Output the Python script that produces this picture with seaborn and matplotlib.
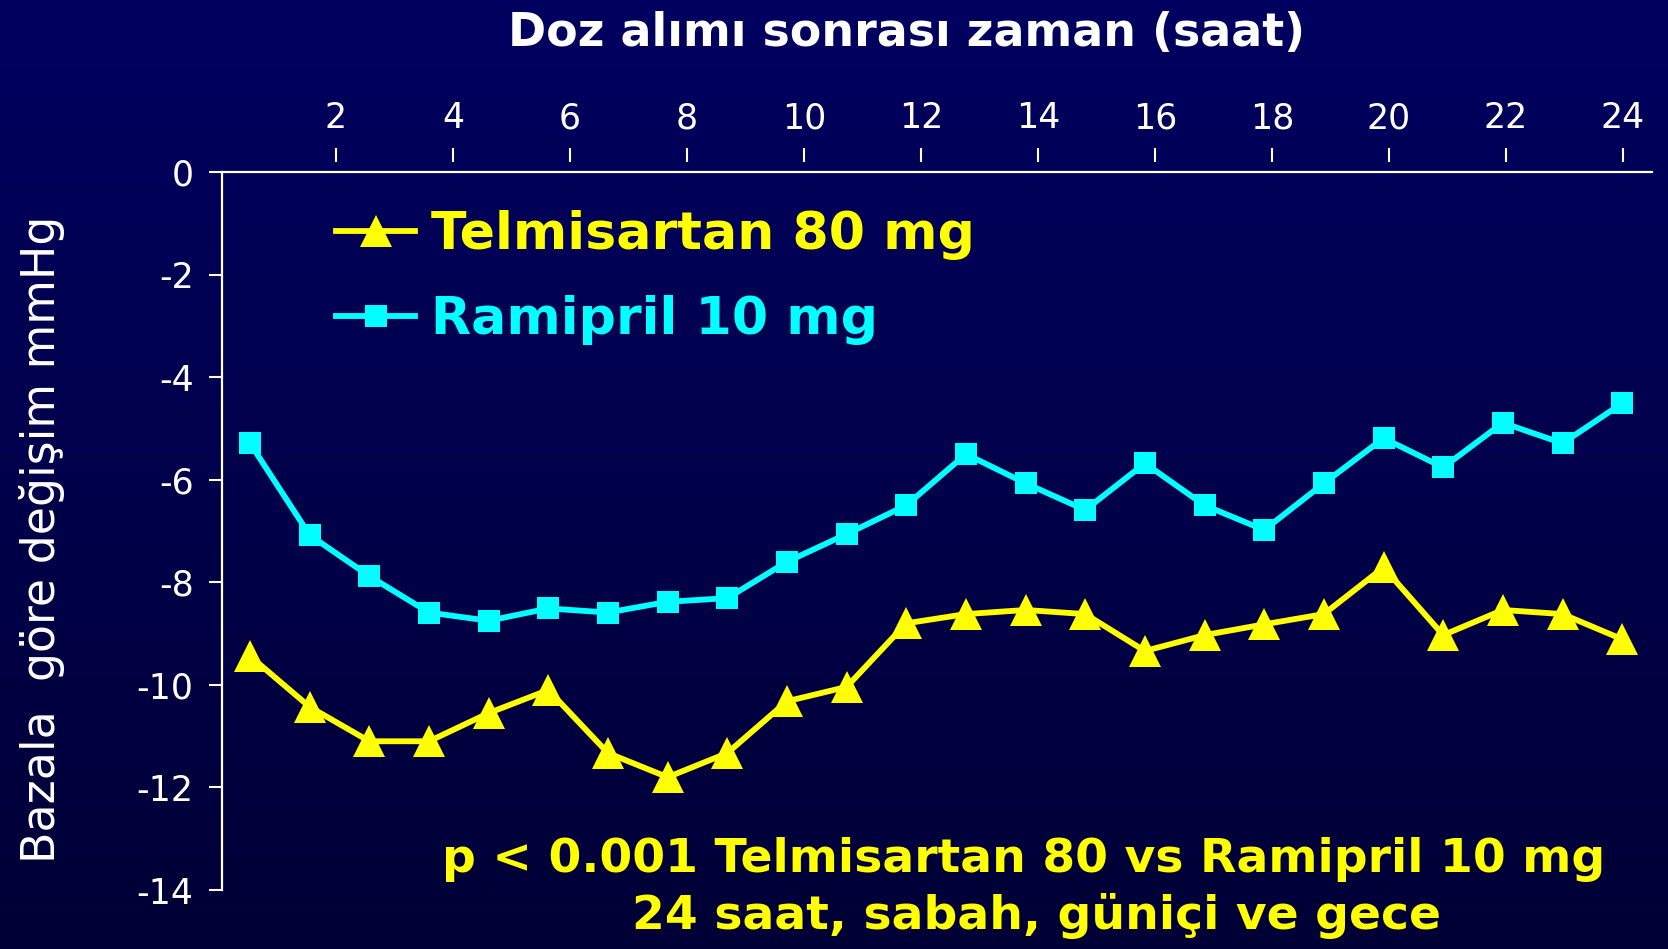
import numpy as np
import pandas as pd
import matplotlib
matplotlib.use("Agg")
import matplotlib.pyplot as plt
from matplotlib.colors import LinearSegmentedColormap
import seaborn as sns

# ---------------- data ----------------
hours = list(range(1, 25))
telmisartan = [-9.44, -10.43, -11.10, -11.10, -10.55, -10.10, -11.33, -11.80,
               -11.33, -10.32, -10.04, -8.80, -8.62, -8.54, -8.62, -9.34,
               -9.03, -8.82, -8.62, -7.71, -9.03, -8.54, -8.62, -9.11]
ramipril = [-5.29, -7.08, -7.88, -8.59, -8.75, -8.51, -8.59, -8.38,
            -8.31, -7.60, -7.06, -6.50, -5.50, -6.07, -6.59, -5.68,
            -6.50, -6.98, -6.07, -5.19, -5.76, -4.89, -5.29, -4.51]
x_tick_labels = [2, 4, 6, 8, 10, 12, 14, 16, 18, 20, 22, 24]
y_tick_labels = [0, -2, -4, -6, -8, -10, -12, -14]
series_names = ["Telmisartan 80 mg", "Ramipril 10 mg"]
title_text = "Doz alımı sonrası zaman (saat)"
ylabel_text = "Bazala  göre değişim mmHg"
note_lines = ["p < 0.001 Telmisartan 80 vs Ramipril 10 mg",
              "24 saat, sabah, güniçi ve gece"]

df_t = pd.DataFrame({"saat": hours, "deger": telmisartan})
df_r = pd.DataFrame({"saat": hours, "deger": ramipril})

# ---------------- style ----------------
YELLOW = "#FFFF00"
CYAN = "#00FFFF"
plt.rcParams["font.family"] = ["DejaVu Sans"]

W, H = 1668, 949
fig = plt.figure(figsize=(W / 100, H / 100), dpi=100)

# background gradient
bg = fig.add_axes([0, 0, 1, 1], zorder=-10)
cmap = LinearSegmentedColormap.from_list("bgc", ["#000060", "#000036"])
grad = np.linspace(0, 1, 256).reshape(-1, 1)
bg.imshow(grad, aspect="auto", cmap=cmap, extent=[0, 1, 0, 1], origin="upper")
bg.axis("off")

left, right, top, bottom = 222, 1652, 172, 890
ax = fig.add_axes([left / W, 1 - bottom / H, (right - left) / W, (bottom - top) / H])
ax.set_facecolor("none")

sns.lineplot(data=df_t, x="saat", y="deger", ax=ax, color=YELLOW, marker="^",
             markersize=23, markeredgewidth=0, linewidth=4.2,
             label=series_names[0], legend=False)
sns.lineplot(data=df_r, x="saat", y="deger", ax=ax, color=CYAN, marker="s",
             markersize=16, markeredgewidth=0, linewidth=4.2,
             label=series_names[1], legend=False)

ax.set_xlim(0.53, 24.5)
ax.set_ylim(-14, 0)
ax.set_xlabel("")
ax.set_ylabel("")
ax.tick_params(axis="x", which="both", bottom=False, top=False,
               labelbottom=False, labeltop=False)
ax.set_yticks(y_tick_labels)
ax.set_yticklabels([str(v) for v in y_tick_labels])
ax.tick_params(axis="y", direction="out", length=9.5, width=1.5, color="white",
               labelcolor="white", labelsize=25, pad=11)
for s in ["right", "bottom"]:
    ax.spines[s].set_visible(False)
for s in ["left", "top"]:
    ax.spines[s].set_color("white")
    ax.spines[s].set_linewidth(1.6)
ax.grid(False)

# top hour axis
ax2 = ax.twiny()
ax2.set_facecolor("none")
ax2.set_xlim(0.05, 24.5)
ax2.set_xticks(x_tick_labels)
ax2.set_xticklabels([str(v) for v in x_tick_labels])
ax2.xaxis.set_ticks_position("top")
ax2.spines["top"].set_position(("outward", 7.5))
for s in ax2.spines.values():
    s.set_visible(False)
ax2.tick_params(axis="x", direction="out", length=10, width=1.5, color="white",
                labelcolor="white", labelsize=25, pad=9)

# legend
handles = ax.get_lines()[:2]
leg = ax.legend(handles, series_names, loc="upper left",
                bbox_to_anchor=(336 / W, 1 - 210 / H),
                bbox_transform=fig.transFigure, frameon=False,
                prop={"size": 37.5, "weight": "bold"}, handlelength=1.52,
                handletextpad=0.3, borderpad=0, borderaxespad=0,
                labelspacing=0.68, numpoints=1)
for txt, col in zip(leg.get_texts(), [YELLOW, CYAN]):
    txt.set_color(col)

# texts
fig.text(907 / W, 1 - 33 / H, title_text, color="white", fontsize=33,
         fontweight="bold", ha="center", va="center")
fig.text(42 / W, 1 - 539 / H, ylabel_text, color="white", fontsize=33,
         rotation=90, ha="center", va="center")
fig.text(1024 / W, 1 - 860 / H, note_lines[0], color=YELLOW, fontsize=34,
         fontweight="bold", ha="center", va="center")
fig.text(1037 / W, 1 - 916 / H, note_lines[1], color=YELLOW, fontsize=34,
         fontweight="bold", ha="center", va="center")

fig.savefig("out.png", dpi=100)
